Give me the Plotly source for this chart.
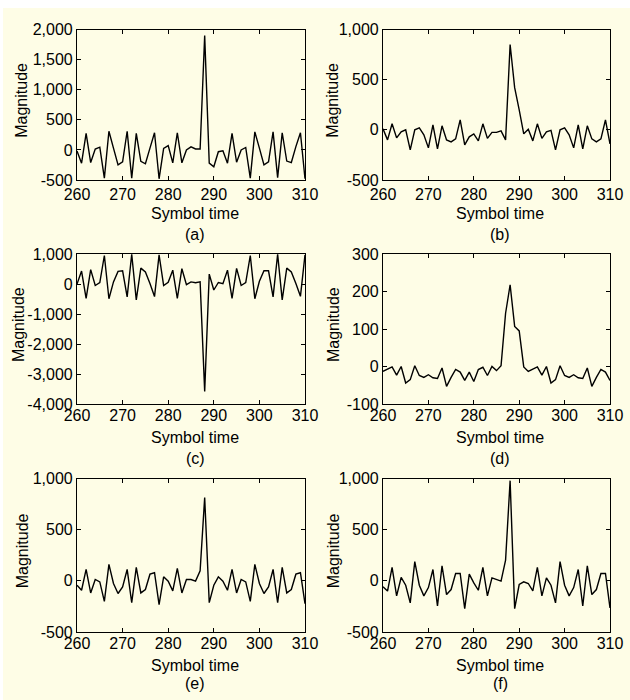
import plotly.graph_objects as go

# ---------------- data ----------------
symbol_time = list(range(260, 311))

mag_a = [-20, -220, 275, -210, 15, 45, -470, 310, 30, -250, -200, 310, -470, 275, -190, -230, 30, 285, -480, 25,
         70, -215, 285, -215, 0, 50, 15, 15, 1900, -220, -280, -30, -15, -220, 275, -205, 0, 40, -470, 300,
         30, -250, -200, 300, -460, 285, -185, -210, 55, 285, -480]
mag_b = [10, -100, 60, -80, -20, 0, -200, 0, 20, -50, -180, 50, -190, 40, -100, -120, -90, 100, -150, -70,
         -40, -110, 60, -85, -25, -25, -10, -100, 850, 420, 200, -40, 5, -110, 60, -85, -20, -5, -200, 0,
         20, -50, -180, 50, -190, 40, -90, -120, -90, 100, -140]
mag_c = [0, 430, -480, 480, -50, 50, 950, -490, 70, 420, 440, -430, 990, -530, 530, 400, 20, -420, 970, -50,
         60, 460, -480, 510, -20, 70, 40, 70, -3580, 330, -200, 50, 10, 460, -480, 520, -50, 50, 950, -490,
         90, 440, 440, -430, 990, -530, 530, 400, 20, -410, 970]
mag_d = [-13, -7, -1, -23, 0, -44, -35, 2, -24, -29, -22, -30, -32, -4, -53, -29, -8, -15, -37, -15,
         -40, -8, -2, -24, 0, -11, 2, 142, 218, 107, 95, -1, -13, -7, -1, -23, 0, -44, -35, 2,
         -24, -29, -22, -30, -32, -4, -53, -29, -8, -15, -37]
mag_e = [-43, -92, 111, -118, 13, -10, -200, 160, -26, -124, -59, 111, -213, 131, -118, -85, 65, 79, -233, 39,
         -3, -98, 121, -118, 13, 13, -3, 98, 815, -213, -43, 39, -3, -92, 111, -118, 13, -10, -200, 160,
         -26, -124, -59, 111, -213, 131, -118, -85, 65, 79, -223]
mag_f = [-59, -100, 131, -147, 33, -43, -216, 187, -43, -147, -66, 111, -246, 147, -134, -85, 72, 72, -272, 65,
         -20, -92, 131, -147, 29, 13, -3, 203, 979, -272, -36, -10, -26, -98, 131, -147, 29, -43, -216, 187,
         -43, -147, -66, 111, -246, 147, -134, -85, 72, 72, -265]

panel_labels = ["(a)", "(b)", "(c)", "(d)", "(e)", "(f)"]
x_tickvals = [260, 270, 280, 290, 300, 310]
x_ticktext = ["260", "270", "280", "290", "300", "310"]

y_tickvals_a = [-500, 0, 500, 1000, 1500, 2000]
y_ticktext_a = ["-500", "0", "500", "1,000", "1,500", "2,000"]
y_tickvals_b = [-500, 0, 500, 1000]
y_ticktext_b = ["-500", "0", "500", "1,000"]
y_tickvals_c = [-4000, -3000, -2000, -1000, 0, 1000]
y_ticktext_c = ["-4,000", "-3,000", "-2,000", "-1,000", "0", "1,000"]
y_tickvals_d = [-100, 0, 100, 200, 300]
y_ticktext_d = ["-100", "0", "100", "200", "300"]

# ---------------- layout helpers ----------------
W, H = 630, 700
BG = "#FEFDE6"
FONT = "Liberation Sans, Arial, sans-serif"
FS = 16

def px_x(p):
    return p / W

def px_y(p):
    return 1 - p / H

col_px = [(77, 305), (383, 610)]
row_px = [(29.5, 180), (254, 404), (478.5, 632)]

panels = [
    (mag_a, 0, 0, [-500, 2000], y_tickvals_a, y_ticktext_a),
    (mag_b, 0, 1, [-500, 1000], y_tickvals_b, y_ticktext_b),
    (mag_c, 1, 0, [-4000, 1000], y_tickvals_c, y_ticktext_c),
    (mag_d, 1, 1, [-100, 300], y_tickvals_d, y_ticktext_d),
    (mag_e, 2, 0, [-500, 1000], y_tickvals_b, y_ticktext_b),
    (mag_f, 2, 1, [-500, 1000], y_tickvals_b, y_ticktext_b),
]

fig = go.Figure()
annotations = []
layout_axes = {}

for i, (vals, r, c, yr, ytv, ytt) in enumerate(panels):
    k = "" if i == 0 else str(i + 1)
    fig.add_trace(go.Scatter(
        x=symbol_time, y=vals, mode="lines",
        line=dict(color="black", width=1.4),
        xaxis="x" + k, yaxis="y" + k, showlegend=False,
        hoverinfo="x+y",
    ))
    x0, x1 = col_px[c]
    y0, y1 = row_px[r]
    common = dict(
        showline=True, linecolor="black", linewidth=1.2, mirror="ticks",
        ticks="inside", ticklen=4, tickcolor="black", tickwidth=1,
        showgrid=False, zeroline=False, automargin=False,
        tickfont=dict(family=FONT, size=FS, color="black"),
    )
    layout_axes["xaxis" + k] = dict(
        domain=[px_x(x0), px_x(x1)], range=[260, 310], anchor="y" + k,
        tickvals=x_tickvals, ticktext=x_ticktext,
        ticklabelstandoff=(0 if r == 0 else -3), **common,
    )
    layout_axes["yaxis" + k] = dict(
        domain=[px_y(y1), px_y(y0)], range=yr, anchor="x" + k,
        tickvals=ytv, ticktext=ytt, **common,
    )
    cx = (x0 + x1) / 2 + 4
    # x axis title
    annotations.append(dict(
        text="Symbol time", x=px_x(cx), y=px_y(y1 + 33), xref="paper", yref="paper",
        showarrow=False, xanchor="center", yanchor="middle",
        font=dict(family=FONT, size=FS, color="black"),
    ))
    # panel label
    annotations.append(dict(
        text=panel_labels[i], x=px_x(cx), y=px_y(y1 + (51 if r == 2 else 54)), xref="paper", yref="paper",
        showarrow=False, xanchor="center", yanchor="middle",
        font=dict(family=FONT, size=FS, color="black"),
    ))
    # y axis title
    ylab_x = (22 if c == 0 else 333)
    if i == 2:
        ylab_x = 18
    annotations.append(dict(
        text="Magnitude", x=px_x(ylab_x), y=px_y((y0 + y1) / 2 - 4), xref="paper", yref="paper",
        showarrow=False, xanchor="center", yanchor="middle", textangle=-90,
        font=dict(family=FONT, size=FS, color="black"),
    ))

fig.update_layout(
    template="none",
    width=W, height=H, autosize=False,
    margin=dict(l=0, r=0, t=0, b=0, pad=0),
    paper_bgcolor="white",
    plot_bgcolor=BG,
    font=dict(family=FONT, size=FS, color="black"),
    annotations=annotations,
    shapes=[dict(type="rect", xref="paper", yref="paper",
                 x0=px_x(3), x1=1.0, y0=0.0, y1=px_y(8),
                 fillcolor=BG, line=dict(width=0), layer="below")],
    **layout_axes,
)

fig.write_html("out.html")
